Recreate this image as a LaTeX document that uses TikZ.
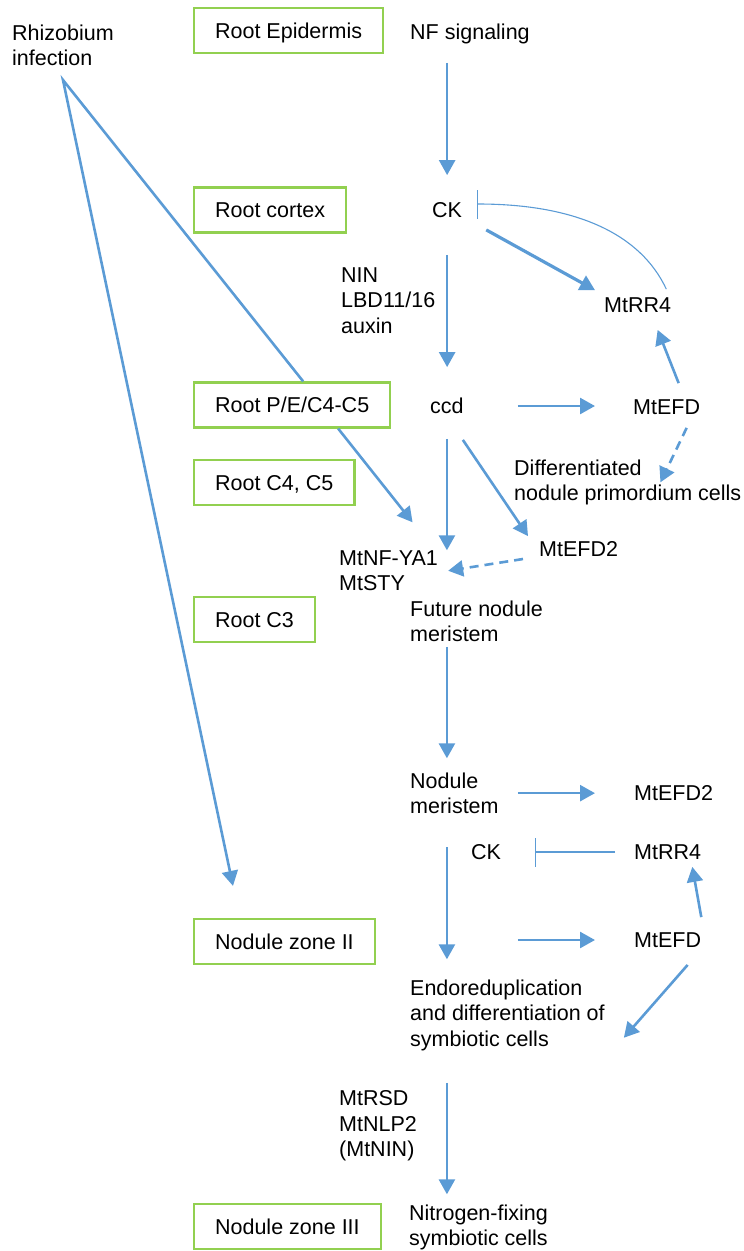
\documentclass[tikz,border=0pt]{standalone}
\usepackage{fontspec}
\setmainfont{Liberation Sans}
\usepackage{xcolor}
\usepackage{tikz}
\usetikzlibrary{arrows.meta, calc}
\definecolor{arrblue}{HTML}{5B9BD5}
\definecolor{zonegreen}{HTML}{92D050}

\begin{document}
\begin{tikzpicture}[x=1pt, y=1pt,
  every node/.style={font=\fontsize{21.5}{25.5}\selectfont},
  zone/.style={draw=zonegreen, line width=2.2pt, inner xsep=21pt, inner ysep=0pt,
               minimum height=45pt, text height=15.4pt, text depth=0pt, anchor=west},
  lbl/.style={inner sep=0pt, text height=15.4pt, text depth=0pt, anchor=west},
  lbls/.style={inner sep=0pt, align=left, anchor=north west},
  arr/.style={-{Triangle[length=15pt, width=16pt]}, line width=2.6pt, color=arrblue},
  darr/.style={arr, dash pattern=on 9pt off 6pt},
  inh/.style={-{Bar[width=29pt]}, line width=1.1pt, color=arrblue},
]
\useasboundingbox (0,0) rectangle (744,-1251);

% Tissue zones
\node[zone] (epi) at (193,-30.5) {Root Epidermis};
\node[zone] (cor) at (193,-210) {Root cortex};
\node[zone] (rpe) at (193,-405) {Root P/E/C4-C5};
\node[zone] (c45) at (193,-482.5) {Root C4, C5};
\node[zone] (c3) at (193,-619.5) {Root C3};
\node[zone] (nz2) at (193,-941.5) {Nodule zone II};
\node[zone] (nz3) at (193,-1226.5) {Nodule zone III};

% Primordium
\node[lbls] (rhizo) at (12,-24.3) {Rhizobium\\infection};
\node[lbl] (nf) at (410,-32) {NF signaling};
\node[lbl] (ck1) at (432,-210) {CK};
\node[lbls] (nin) at (341,-267.3) {NIN\\LBD11/16\\auxin};
\node[lbl] (rr1) at (604,-305) {MtRR4};
\node[lbl] (ccd) at (430,-406) {ccd};
\node[lbl] (efd1) at (633,-407) {MtEFD};
\node[lbls] (diff) at (514,-459.3) {Differentiated\\nodule primordium cells};
\node[lbls] (nfya) at (339,-550.3) {MtNF-YA1\\MtSTY};
\node[lbl] (efd2a) at (539,-549) {MtEFD2};
\node[lbls] (fut) at (410,-600.3) {Future nodule\\meristem};

% Nodule
\node[lbls] (nm) at (410,-772.3) {Nodule\\meristem};
\node[lbl] (efd2b) at (634,-793) {MtEFD2};
\node[lbl] (ck2) at (471,-852) {CK};
\node[lbl] (rr2) at (634,-852) {MtRR4};
\node[lbl] (efd3) at (634,-940) {MtEFD};
\node[lbls] (endo) at (410,-979.3) {Endoreduplication\\and differentiation of\\symbiotic cells};
\node[lbls] (rsd) at (339,-1090.3) {MtRSD\\MtNLP2\\(MtNIN)};
\node[lbls] (nfix) at (409,-1204.3) {Nitrogen-fixing\\symbiotic cells};

% Infection thread
\coordinate (apex) at ([yshift=-14pt]rhizo.south);
\draw[arr] ([xshift=11pt]rpe.north) -- (apex) -- ([shift={(40pt,32pt)}]nz2.north west);

% Cortical cell division
\draw[arr, shorten <=23pt, shorten >=27pt] (nf.south -| ck1) -- (ck1.north);
\draw[arr, shorten <=37pt, shorten >=31pt] (ck1.south) -- (ck1.south |- ccd.north);
\draw[arr, line width=3.2pt] ([shift={(24pt,-12pt)}]ck1.south east) -- ([shift={(-9pt,7pt)}]rr1.north west);
\draw[inh] ([shift={(-5pt,8pt)}]rr1.north east) .. controls +(115:60pt) and +(0:100pt) .. ([shift={(15pt,6pt)}]ck1.east);
\draw[arr, shorten <=54pt, shorten >=38pt] (ccd.east) -- (ccd.east -| efd1.west);
\draw[arr] ([shift={(12pt,16pt)}]efd1.north) -- ([shift={(20pt,-17pt)}]rr1.south);
\draw[darr] ([shift={(20pt,-13pt)}]efd1.south) -- ([shift={(-81pt,-23pt)}]diff.north east);
\draw[arr, shorten <=25pt] (ccd.south) -- (ccd.south |- nfya.north);
\draw[arr] ([shift={(-1pt,-26pt)}]ccd.south east) -- ([shift={(-11pt,5pt)}]efd2a.north west);
\draw[darr] ([shift={(-16pt,-10pt)}]efd2a.west) -- ([xshift=10pt]nfya.east);
\draw[arr] ([xshift=46pt]rpe.south) -- ([shift={(24pt,28pt)}]nfya.north);

% Meristem and zone II
\draw[arr, shorten <=5pt, shorten >=14pt] (fut.south -| ccd) -- (nm.north -| ccd);
\draw[arr, shorten <=19pt, shorten >=39pt] (nm.east) -- (nm.east -| efd2b.west);
\draw[inh, shorten <=19pt, shorten >=34pt] (rr2.west) -- (rr2.west -| ck2.east);
\draw[arr, shorten <=33pt, shorten >=20pt] (nm.south -| ccd) -- (endo.north -| ccd);
\draw[arr, shorten <=19pt, shorten >=39pt] (nm.east |- efd3.west) -- (efd3.west);
\draw[arr] ([yshift=15pt]efd3.north east) -- ([shift={(-9pt,-7pt)}]rr2.south east);
\draw[arr] ([shift={(20pt,-17pt)}]efd3.south) -- ([shift={(19pt,13pt)}]endo.south east);
\draw[arr, shorten <=32pt, shorten >=10pt] (endo.south -| ccd) -- (nfix.north -| ccd);
\end{tikzpicture}
\end{document}
